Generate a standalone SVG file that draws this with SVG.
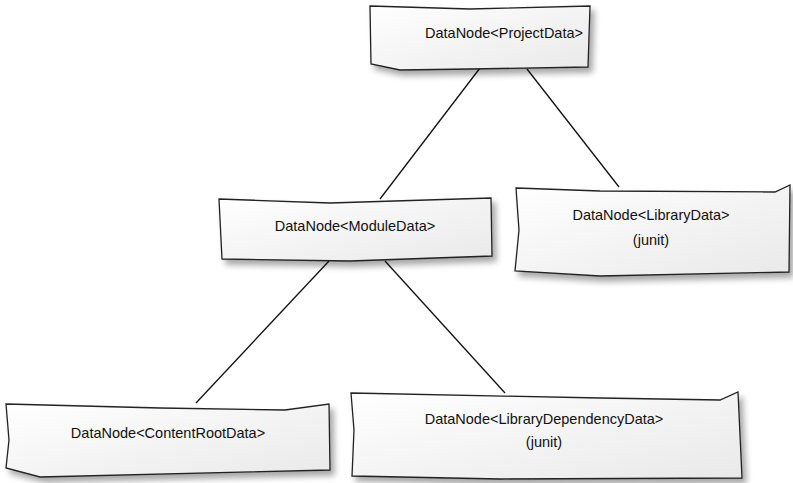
<svg xmlns="http://www.w3.org/2000/svg" width="793" height="483" viewBox="0 0 793 483">
<defs>
<linearGradient id="g" x1="0" y1="0" x2="1" y2="1">
<stop offset="0" stop-color="#ffffff"/>
<stop offset="1" stop-color="#e9e9e9"/>
</linearGradient>
<filter id="sh" x="-10%" y="-10%" width="130%" height="140%">
<feGaussianBlur in="SourceAlpha" stdDeviation="3"/>
<feOffset dx="4" dy="5" result="b"/>
<feComponentTransfer><feFuncA type="linear" slope="0.35"/></feComponentTransfer>
<feMerge><feMergeNode/><feMergeNode in="SourceGraphic"/></feMerge>
</filter>
</defs>
<style>
.box{fill:url(#g);stroke:#222;stroke-width:1.3;filter:url(#sh)}
.t{font-family:"Liberation Sans",Arial,sans-serif;font-size:14.5px;fill:#111;text-anchor:middle}
.c{stroke:#111;stroke-width:1.3;fill:none}
</style>
<rect width="793" height="483" fill="#fff"/>
<g id="connectors">
<line class="c" x1="480" y1="68" x2="380" y2="199"/>
<line class="c" x1="527" y1="69" x2="619" y2="187"/>
<line class="c" x1="329" y1="261" x2="196" y2="403"/>
<line class="c" x1="385" y1="261" x2="505" y2="393"/>
</g>
<g id="n_project">
<polygon class="box" points="370,6 470,9 590,6 588,67 470,69 400,70 371,64"/>
<text class="t" x="504" y="38">DataNode&lt;ProjectData&gt;</text>
</g>
<g id="n_module">
<polygon class="box" points="219,199 330,203 491,198 492,256 350,261 222,259"/>
<text class="t" x="355" y="231">DataNode&lt;ModuleData&gt;</text>
</g>
<g id="n_library">
<polygon class="box" points="516,188 600,191 775,192 790,185 789,272 600,276 515,271 519,230"/>
<text class="t" x="651" y="220">DataNode&lt;LibraryData&gt;</text>
<text class="t" x="651" y="245">(junit)</text>
</g>
<g id="n_contentroot">
<polygon class="box" points="6,404 160,408 285,410 329,404 330,470 40,477 6,468 9,440"/>
<text class="t" x="168" y="438">DataNode&lt;ContentRootData&gt;</text>
</g>
<g id="n_libdep">
<polygon class="box" points="351,393 600,398 720,400 738,392 742,478 500,479 352,476 354,430"/>
<text class="t" x="544" y="424">DataNode&lt;LibraryDependencyData&gt;</text>
<text class="t" x="544" y="447">(junit)</text>
</g>
</svg>
